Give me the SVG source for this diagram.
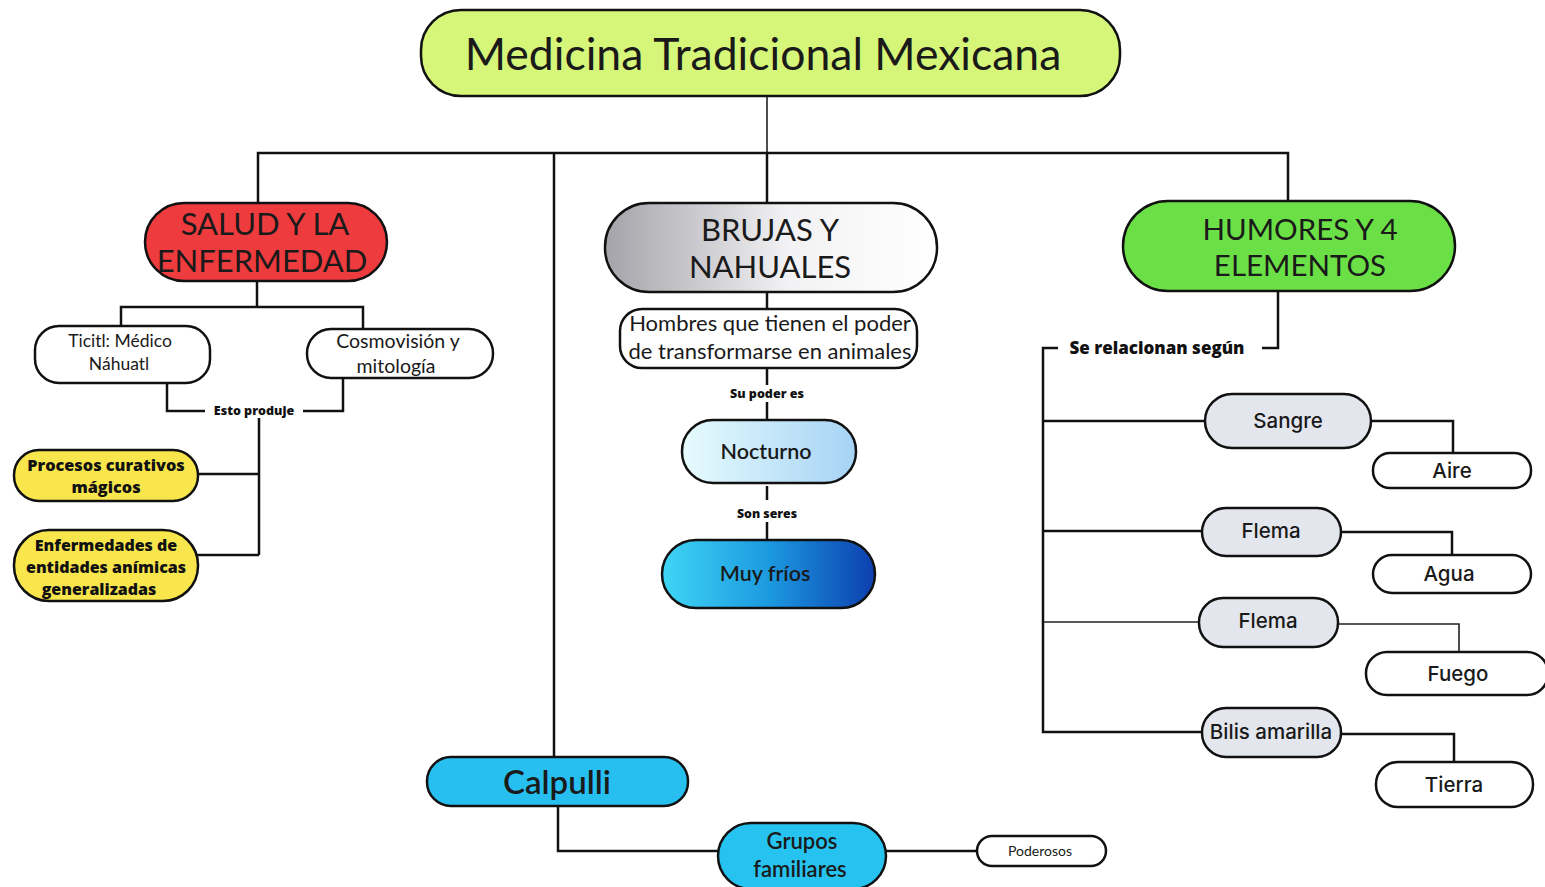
<svg xmlns="http://www.w3.org/2000/svg" width="1545" height="887" viewBox="0 0 1545 887">
<defs>
<style>
.n{stroke:#111;stroke-width:2.5}
.w{fill:#fff}
.t{font-family:Lato,"Open Sans","Liberation Sans",sans-serif;fill:#1a1a1a;text-anchor:middle}
.i{font-family:Inter,"Liberation Sans",sans-serif;fill:#1a1a1a;text-anchor:middle;font-weight:500}
.b{font-family:"Open Sans","Liberation Sans",sans-serif;font-weight:800;fill:#111;text-anchor:middle}
.c{fill:none;stroke:#111;stroke-width:2.5}
.ct{fill:none;stroke:#222;stroke-width:1.6}
</style>
<linearGradient id="gBr" x1="0" y1="0" x2="1" y2="0"><stop offset="0" stop-color="#a3a3a9"/><stop offset="0.55" stop-color="#f2f2f4"/><stop offset="1" stop-color="#ffffff"/></linearGradient>
<linearGradient id="gNo" x1="0" y1="0" x2="1" y2="0"><stop offset="0" stop-color="#e6fbfd"/><stop offset="1" stop-color="#a6d3f5"/></linearGradient>
<linearGradient id="gMu" x1="0" y1="0" x2="1" y2="0"><stop offset="0" stop-color="#3fd5f5"/><stop offset="0.5" stop-color="#1c9ae0"/><stop offset="1" stop-color="#0d3fae"/></linearGradient>
</defs>
<rect width="1545" height="887" fill="#fff"/>
<g id="connectors">
<path class="ct" d="M767 96V153"/>
<path class="c" d="M258 203V153H1288V203M767 153V203M554 153V757"/>
<path class="c" d="M257 281V307M121 327V307H363V331"/>
<path class="c" d="M167 383V411H205M303 411H343V378M259 418V555M197 474H259M197 555H259"/>
<path class="c" d="M767 292V310M767 368V385M767 402V420M767 486V500M767 522V540"/>
<path class="c" d="M1278 291V348H1262M1058 348H1043V732H1202M1043 421H1205M1043 531H1202"/>
<path class="ct" d="M1043 622H1200"/>
<path class="c" d="M1371 421H1453V454M1341 532H1452V555M1454 762V734H1341"/>
<path class="ct" d="M1338 624H1459V652"/>
<path class="c" d="M558 806V851H718M886 851H977"/>
</g>
<g id="title"><rect class="n" x="421" y="10" width="699" height="86" rx="40" fill="#d6f679"/><text class="t" x="763" y="70" font-size="44.5">Medicina Tradicional Mexicana</text></g>
<g id="salud"><rect class="n" x="145" y="203" width="242" height="78" rx="39" fill="#ee3b3d"/><text class="t" x="265" y="235" font-size="31" fill="#3a1212">SALUD Y LA</text><text class="t" x="262" y="272" font-size="31" fill="#3a1212">ENFERMEDAD</text></g>
<g id="ticitl"><rect class="n w" x="35" y="326" width="175" height="57" rx="24"/><text class="t" x="120" y="347" font-size="17.5">Ticitl: Médico</text><text class="t" x="119" y="370" font-size="17.5">Náhuatl</text></g>
<g id="cosmo"><rect class="n w" x="307" y="329" width="186" height="49" rx="24"/><text class="t" x="398" y="348" font-size="19.5">Cosmovisión y</text><text class="t" x="396" y="373" font-size="19.5">mitología</text></g>
<g id="esto"><text class="b" x="254" y="415" font-size="12.5">Esto produje</text></g>
<g id="procesos"><rect class="n" x="14" y="450" width="184" height="51" rx="25" fill="#f8e64c"/><text class="b" x="106" y="471" font-size="16.3" font-weight="700">Procesos curativos</text><text class="b" x="106" y="493" font-size="16.3" font-weight="700">mágicos</text></g>
<g id="enfermedades"><rect class="n" x="14" y="530" width="184" height="71" rx="35" fill="#f8e64c"/><text class="b" x="106" y="551" font-size="16" font-weight="700">Enfermedades de</text><text class="b" x="106" y="573" font-size="16" font-weight="700">entidades anímicas</text><text class="b" x="99" y="595" font-size="16" font-weight="700">generalizadas</text></g>
<g id="brujas"><rect class="n" x="605" y="203" width="332" height="89" rx="44" fill="url(#gBr)"/><text class="t" x="770" y="241" font-size="31">BRUJAS Y</text><text class="t" x="770" y="278" font-size="31">NAHUALES</text></g>
<g id="hombres"><rect class="n w" x="620" y="309" width="297" height="59" rx="22"/><text class="t" x="770" y="331" font-size="22">Hombres que tienen el poder</text><text class="t" x="770" y="359" font-size="22">de transformarse en animales</text></g>
<g id="supoder"><text class="b" x="767" y="398" font-size="12.5">Su poder es</text></g>
<g id="nocturno"><rect class="n" x="682" y="420" width="174" height="63" rx="31" fill="url(#gNo)"/><text class="t" x="766" y="459" font-size="21.5" font-weight="600">Nocturno</text></g>
<g id="sonseres"><text class="b" x="767" y="518" font-size="12.3">Son seres</text></g>
<g id="muyfrios"><rect class="n" x="662" y="540" width="213" height="68" rx="34" fill="url(#gMu)"/><text class="t" x="765" y="581" font-size="21.5" font-weight="600">Muy fríos</text></g>
<g id="humores"><rect class="n" x="1123" y="201" width="332" height="90" rx="45" fill="#6bdf46"/><text class="t" x="1300" y="240" font-size="29.5">HUMORES Y 4</text><text class="t" x="1300" y="276" font-size="29.5">ELEMENTOS</text></g>
<g id="serelacionan"><text class="b" x="1157" y="354" font-size="17">Se relacionan según</text></g>
<g id="sangre"><rect class="n" x="1205" y="394" width="166" height="54" rx="27" fill="#e4e6ee"/><text class="i" x="1288" y="428" font-size="20.5">Sangre</text></g>
<g id="aire"><rect class="n w" x="1373" y="453" width="158" height="35" rx="17"/><text class="i" x="1452" y="478" font-size="20.5">Aire</text></g>
<g id="flema1"><rect class="n" x="1202" y="508" width="139" height="48" rx="24" fill="#e4e6ee"/><text class="i" x="1271" y="538" font-size="20.5">Flema</text></g>
<g id="agua"><rect class="n w" x="1373" y="555" width="158" height="38" rx="19"/><text class="i" x="1449" y="581" font-size="20.5">Agua</text></g>
<g id="flema2"><rect class="n" x="1199" y="598" width="139" height="49" rx="24" fill="#e4e6ee"/><text class="i" x="1268" y="628" font-size="20.5">Flema</text></g>
<g id="fuego"><rect class="n w" x="1366" y="652" width="182" height="43" rx="21"/><text class="i" x="1458" y="681" font-size="20.5">Fuego</text></g>
<g id="bilis"><rect class="n" x="1202" y="708" width="139" height="49" rx="24" fill="#e4e6ee"/><text class="i" x="1271" y="739" font-size="20.5">Bilis amarilla</text></g>
<g id="tierra"><rect class="n w" x="1376" y="762" width="157" height="45" rx="22"/><text class="i" x="1454" y="792" font-size="20.5">Tierra</text></g>
<g id="calpulli"><rect class="n" x="427" y="757" width="261" height="49" rx="24" fill="#27bff0"/><text class="t" x="557" y="794" font-size="33" font-weight="600" fill="#10223a">Calpulli</text></g>
<g id="grupos"><rect class="n" x="718" y="823" width="168" height="66" rx="33" fill="#27c3f0"/><text class="t" x="802" y="849" font-size="22" font-weight="600" fill="#10223a">Grupos</text><text class="t" x="800" y="877" font-size="22" font-weight="600" fill="#10223a">familiares</text></g>
<g id="poderosos"><rect class="n w" x="977" y="836" width="129" height="30" rx="15"/><text class="t" x="1040" y="856" font-size="14" font-family="Liberation Sans,sans-serif">Poderosos</text></g>
</svg>
